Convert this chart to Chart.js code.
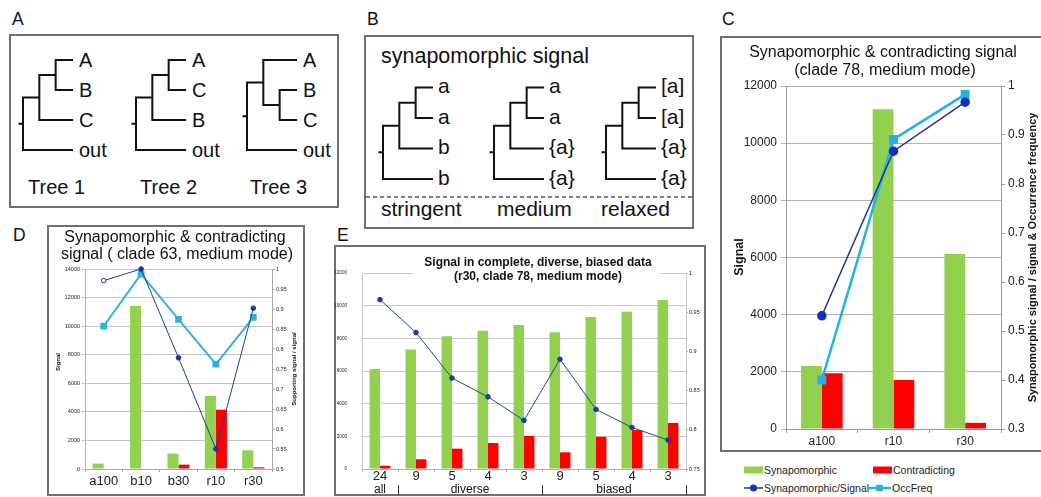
<!DOCTYPE html>
<html><head><meta charset="utf-8">
<script src="https://cdn.jsdelivr.net/npm/chart.js@4.4.0/dist/chart.umd.min.js"></script>
<style>
html,body{margin:0;padding:0;background:#fff;}
body{width:1041px;height:497px;overflow:hidden;position:relative;}
#svg{position:absolute;left:0;top:0;}
canvas{position:absolute;}
</style></head><body>
<svg id="svg" width="1041" height="497"></svg>
<canvas id="cC" width="320" height="415" style="left:721px;top:37px"></canvas>
<canvas id="cD" width="257" height="270" style="left:48px;top:226px"></canvas>
<canvas id="cE" width="370" height="250" style="left:335px;top:246px"></canvas>
<script>
// ---------------- DATA ----------------
// Panel C
const cCategories = ['a100', 'r10', 'r30'];
const cSynapomorphic = [2200, 11190, 6120];
const cContradicting = [1950, 1715, 215];
const cSynSignalRatio = [0.531, 0.867, 0.967];
const cOccFreq = [0.400, 0.891, 0.983];
const cSignalTicks = [0, 2000, 4000, 6000, 8000, 10000, 12000];
const cRatioTicks = [0.3, 0.4, 0.5, 0.6, 0.7, 0.8, 0.9, 1];

// Panel D
const dCategories = ['a100', 'b10', 'b30', 'r10', 'r30'];
const dSynapomorphic = [380, 11410, 1075, 5110, 1310];
const dContradicting = [0, 0, 305, 4150, 120];
const dSupportRatio = [0.971, 1.0, 0.778, 0.55, 0.902];
const dOccFreq = [0.857, 0.987, 0.874, 0.762, 0.879];
const dSignalTicks = [0, 2000, 4000, 6000, 8000, 10000, 12000, 14000];
const dRatioTicks = [0.5, 0.55, 0.6, 0.65, 0.7, 0.75, 0.8, 0.85, 0.9, 0.95, 1];

// Panel E
const eCategories = ['24', '9', '5', '4', '3', '9', '5', '4', '3'];
const eGroups = ['all', 'diverse', 'biased'];
const eGroupSizes = [1, 4, 4];
const eSynapomorphic = [6120, 7320, 8130, 8460, 8820, 8370, 9300, 9630, 10350];
const eContradicting = [200, 595, 1245, 1590, 2020, 1020, 1975, 2385, 2815];
const eSynSignalRatio = [0.966, 0.924, 0.866, 0.842, 0.812, 0.890, 0.826, 0.803, 0.787];
const eSignalTicks = [0, 2000, 4000, 6000, 8000, 10000, 12000];
const eRatioTicks = [0.75, 0.8, 0.85, 0.9, 0.95, 1];

// Panel A / B tree topologies
const treesA = [
  {name: 'Tree 1', topo: [[['A', 'B'], 'C'], 'out']},
  {name: 'Tree 2', topo: [[['A', 'C'], 'B'], 'out']},
  {name: 'Tree 3', topo: [['A', ['B', 'C']], 'out']}
];
const treesB = [
  {name: 'stringent', topo: [[['a', 'a'], 'b'], 'b']},
  {name: 'medium', topo: [[['a', 'a'], '{a}'], '{a}']},
  {name: 'relaxed', topo: [[['[a]', '[a]'], '{a}'], '{a}']}
];

// ---------------- STYLE ----------------
const FONT = "'Liberation Sans', Arial, Helvetica, sans-serif";
Chart.defaults.font.family = FONT;
Chart.defaults.color = '#222';
const GREEN = '#92d050', RED = '#ff0000';
const DARKBLUE = '#1f2f9e', DARKBLUE_PT = '#1230c4', LIGHTBLUE = '#22b2e6';
const BOXCOL = '#707070';

// ---------------- SVG (boxes, trees, legend) ----------------
const svg = document.getElementById('svg');
const NS = 'http://www.w3.org/2000/svg';
function el(tag, attrs, text) {
  const e = document.createElementNS(NS, tag);
  for (const k in attrs) e.setAttribute(k, attrs[k]);
  if (text != null) e.textContent = text;
  svg.appendChild(e);
  return e;
}
function txt(x, y, s, size, extra) {
  return el('text', Object.assign({x: x, y: y, 'font-size': size, 'font-family': FONT, fill: '#111'}, extra || {}), s);
}
// boxes
el('rect', {x: 10, y: 35, width: 328, height: 172, fill: 'none', stroke: BOXCOL, 'stroke-width': 2});
el('rect', {x: 365, y: 36, width: 328, height: 192, fill: 'none', stroke: BOXCOL, 'stroke-width': 2});
el('path', {d: 'M1045 37 H721 V451 H1045', fill: 'none', stroke: BOXCOL, 'stroke-width': 2});
el('rect', {x: 48, y: 226, width: 256, height: 269, fill: 'none', stroke: BOXCOL, 'stroke-width': 2});
el('rect', {x: 335, y: 246, width: 370, height: 249, fill: 'none', stroke: BOXCOL, 'stroke-width': 2});
// panel letters
[['A', 12, 25], ['B', 367, 25], ['C', 722, 25], ['D', 13, 241], ['E', 337, 241]].forEach(p => txt(p[1], p[2], p[0], 17.5));

function drawTree(topo, x0, yTop, dy, step, fontSize, labelDx, labelDy) {
  let leaf = 0;
  const tipX = x0 + 3 * step;
  const segs = [];
  function lay(node, depth) {
    if (typeof node === 'string') {
      const y = yTop + dy * (leaf++);
      txt(tipX + labelDx, y + labelDy, node, fontSize);
      return {x: tipX, y: y};
    }
    const x = x0 + depth * step;
    const kids = node.map(n => lay(n, depth + 1));
    const ys = kids.map(k => k.y);
    segs.push(`M${x} ${Math.min(...ys)} V${Math.max(...ys)}`);
    kids.forEach(k => segs.push(`M${x} ${k.y} H${k.x}`));
    return {x: x, y: (Math.min(...ys) + Math.max(...ys)) / 2};
  }
  const root = lay(topo, 0);
  segs.push(`M${x0 - 3.5} ${root.y} H${x0}`);
  el('path', {d: segs.join(' '), fill: 'none', stroke: '#111', 'stroke-width': 2, 'stroke-linecap': 'square'});
}
// Panel A
const aOffsets = [23, 136, 247];
const aNameX = [28, 140, 250];
treesA.forEach((t, i) => {
  drawTree(t.topo, aOffsets[i], 60, 30, 16.33, 20, 7, 7);
  txt(aNameX[i], 194, t.name, 20);
});
// Panel B
txt(381, 63, 'synapomorphic signal', 21.5);
el('line', {x1: 366, y1: 197, x2: 692, y2: 197, stroke: '#555', 'stroke-width': 1.5, 'stroke-dasharray': '4 3'});
const bOffsets = [383, 494, 606];
const bNameX = [381, 497, 601];
treesB.forEach((t, i) => {
  drawTree(t.topo, bOffsets[i], 87.5, 30.5, 16.33, 21, 6, 5.5);
  txt(bNameX[i], 216, t.name, 21);
});

// ---------------- helpers ----------------
function fixedTicks(arr) { return function (scale) { scale.ticks = arr.map(v => ({value: v})); }; }
const plainNum = v => String(parseFloat(Number(v).toFixed(3)));
function textPlugin(items) {
  return {
    id: 'texts',
    afterDraw(chart) {
      const ctx = chart.ctx;
      items.forEach(t => {
        ctx.save();
        if (t.bg) { ctx.fillStyle = '#fff'; ctx.fillRect(t.bg[0], t.bg[1], t.bg[2], t.bg[3]); }
        ctx.font = t.font;
        ctx.fillStyle = t.color || '#111';
        ctx.textAlign = t.align || 'center';
        ctx.textBaseline = t.baseline || 'alphabetic';
        ctx.translate(t.x, t.y);
        if (t.rot) ctx.rotate(t.rot);
        ctx.fillText(t.text, 0, 0);
        ctx.restore();
      });
    }
  };
}

// ---------------- Panel C ----------------
const cDatasets = [
  {type: 'line', label: 'Synapomorphic/Signal', data: cSynSignalRatio, yAxisID: 'y1', borderColor: DARKBLUE, borderWidth: 1.5,
   pointRadius: 4, pointBackgroundColor: DARKBLUE_PT, pointBorderColor: DARKBLUE_PT, tension: 0, order: 0, clip: false},
  {type: 'line', label: 'OccFreq', data: cOccFreq, yAxisID: 'y1', borderColor: LIGHTBLUE, borderWidth: 2.5,
   pointStyle: 'rect', pointRadius: 4.5, pointBackgroundColor: LIGHTBLUE, pointBorderColor: LIGHTBLUE, tension: 0, order: 0, clip: false},
  {type: 'bar', label: 'Synapomorphic', data: cSynapomorphic, yAxisID: 'y', backgroundColor: GREEN, categoryPercentage: 0.58, barPercentage: 1, order: 1},
  {type: 'bar', label: 'Contradicting', data: cContradicting, yAxisID: 'y', backgroundColor: RED, categoryPercentage: 0.58, barPercentage: 1, order: 1}
];
new Chart(document.getElementById('cC'), {
  type: 'bar',
  data: {labels: cCategories, datasets: cDatasets},
  options: {
    responsive: false, animation: false,
    layout: {padding: {top: 49, left: 0, right: 0, bottom: 0}},
    plugins: {legend: {display: false}, tooltip: {enabled: false}},
    scales: {
      x: {offset: true, grid: {offset: true, drawOnChartArea: false, tickLength: 4, color: '#9a9a9a'}, border: {color: '#9a9a9a'},
          ticks: {font: {size: 12}, padding: 1, maxRotation: 0}, afterFit(s) { s.height = 23; }},
      y: {position: 'left', min: 0, max: 12000, afterBuildTicks: fixedTicks(cSignalTicks),
          ticks: {font: {size: 12}, padding: 4, callback: v => String(v)},
          grid: {color: '#b4b4b4', tickLength: 5}, border: {color: '#9a9a9a'}, afterFit(s) { s.width = 65; }},
      y1: {position: 'right', min: 0.3, max: 1, afterBuildTicks: fixedTicks(cRatioTicks),
          ticks: {font: {size: 12}, padding: 3, callback: plainNum},
          grid: {drawOnChartArea: false, tickLength: 4, color: '#9a9a9a'}, border: {color: '#9a9a9a'}, afterFit(s) { s.width = 40; }}
    }
  },
  plugins: [textPlugin([
    {text: 'Synapomorphic & contradicting signal', x: 162, y: 20, font: '16px ' + FONT},
    {text: '(clade 78, medium mode)', x: 164, y: 38, font: '16px ' + FONT},
    {text: 'Signal', x: 19, y: 220, rot: -Math.PI / 2, baseline: 'middle', font: 'bold 12.5px ' + FONT},
    {text: 'Synapomorphic signal / signal & Occurrence frequency', x: 312, y: 220.5, rot: -Math.PI / 2, baseline: 'middle', font: 'bold 11px ' + FONT}
  ])]
});
// legend for C (outside its box), built from the datasets
(function () {
  const order = ['Synapomorphic', 'Contradicting', 'Synapomorphic/Signal', 'OccFreq'];
  const pos = [[744, 470], [873, 470], [744, 488], [868, 488]];
  order.forEach((name, i) => {
    const ds = cDatasets.find(d => d.label === name);
    const [x, y] = pos[i];
    let tx;
    if (ds.type === 'bar') {
      el('rect', {x: x, y: y - 3.5, width: 19, height: 7, fill: ds.backgroundColor});
      tx = x + 20;
    } else {
      const w = i === 3 ? 23 : 19;
      el('line', {x1: x, y1: y, x2: x + w, y2: y, stroke: ds.borderColor, 'stroke-width': ds.borderWidth});
      if (ds.pointStyle === 'rect') el('rect', {x: x + w / 2 - 3.3, y: y - 3.3, width: 6.6, height: 6.6, fill: ds.pointBackgroundColor});
      else el('circle', {cx: x + w / 2, cy: y, r: 3.5, fill: ds.pointBackgroundColor});
      tx = x + w + 1;
    }
    txt(tx, y + 3.8, name, 10.5, {fill: '#222'});
  });
})();

// ---------------- Panel D ----------------
new Chart(document.getElementById('cD'), {
  type: 'bar',
  data: {labels: dCategories, datasets: [
    {type: 'line', label: 'Supporting/Signal', data: dSupportRatio, yAxisID: 'y1', borderColor: '#243c8c', borderWidth: 1,
     pointRadius: 2.3, pointBorderWidth: 1, pointBackgroundColor: ['#ffffff', '#1f3596', '#1f3596', '#1f3596', '#1f3596'], pointBorderColor: '#1f3596',
     tension: 0, order: 0, clip: false},
    {type: 'line', label: 'OccFreq', data: dOccFreq, yAxisID: 'y1', borderColor: '#36b3d6', borderWidth: 2,
     pointStyle: 'rect', pointRadius: 3.4, pointBackgroundColor: '#2fb0e0', pointBorderColor: '#2fb0e0', tension: 0, order: 0, clip: false},
    {type: 'bar', label: 'Synapomorphic', data: dSynapomorphic, yAxisID: 'y', backgroundColor: GREEN, categoryPercentage: 0.59, barPercentage: 1, order: 1},
    {type: 'bar', label: 'Contradicting', data: dContradicting, yAxisID: 'y', backgroundColor: RED, categoryPercentage: 0.59, barPercentage: 1, order: 1}
  ]},
  options: {
    responsive: false, animation: false,
    layout: {padding: {top: 43, left: 0, right: 0, bottom: 0}},
    plugins: {legend: {display: false}, tooltip: {enabled: false}},
    scales: {
      x: {offset: true, grid: {offset: true, drawOnChartArea: false, tickLength: 3, color: '#a8a8a8'}, border: {color: '#a8a8a8'},
          ticks: {font: {size: 13}, padding: 2, maxRotation: 0}, afterFit(s) { s.height = 27; }},
      y: {position: 'left', min: 0, max: 14000, afterBuildTicks: fixedTicks(dSignalTicks),
          ticks: {font: {size: 5.5}, padding: 2, callback: v => String(v)},
          grid: {color: '#c4c4c4', tickLength: 3}, border: {color: '#b0b0b0'}, afterFit(s) { s.width = 37; }},
      y1: {position: 'right', min: 0.5, max: 1, afterBuildTicks: fixedTicks(dRatioTicks),
          ticks: {font: {size: 5.5}, padding: 1, callback: plainNum},
          grid: {drawOnChartArea: false, tickLength: 3, color: '#a8a8a8'}, border: {color: '#a8a8a8'}, afterFit(s) { s.width = 33; }}
    }
  },
  plugins: [textPlugin([
    {text: 'Synapomorphic & contradicting', x: 127, y: 15.5, font: '16px ' + FONT},
    {text: 'signal ( clade 63, medium mode)', x: 129, y: 32.5, font: '16px ' + FONT},
    {text: 'Signal', x: 10, y: 136, rot: -Math.PI / 2, baseline: 'middle', font: 'bold 6px ' + FONT},
    {text: 'Supporting signal / signal', x: 246, y: 143, rot: -Math.PI / 2, baseline: 'middle', font: 'bold 6px ' + FONT}
  ])]
});

// ---------------- Panel E ----------------
const groupPlugin = {
  id: 'groups',
  afterDraw(chart) {
    const ctx = chart.ctx, xs = chart.scales.x;
    const w = xs.getPixelForValue(1) - xs.getPixelForValue(0);
    let start = 0;
    ctx.save();
    ctx.font = '12px ' + FONT; ctx.fillStyle = '#111'; ctx.textAlign = 'center'; ctx.textBaseline = 'alphabetic';
    ctx.strokeStyle = '#333'; ctx.lineWidth = 1;
    eGroups.forEach((g, i) => {
      const n = eGroupSizes[i];
      const left = xs.getPixelForValue(start) - w / 2;
      const right = xs.getPixelForValue(start + n - 1) + w / 2;
      ctx.fillText(g, (left + right) / 2, 246.5);
      const rx = Math.round(right) + 0.5;
      ctx.beginPath(); ctx.moveTo(rx, 239); ctx.lineTo(rx, 249); ctx.stroke();
      start += n;
    });
    ctx.restore();
  }
};
new Chart(document.getElementById('cE'), {
  type: 'bar',
  data: {labels: eCategories, datasets: [
    {type: 'line', label: 'Synapomorphic/Signal', data: eSynSignalRatio, yAxisID: 'y1', borderColor: '#28488e', borderWidth: 1,
     pointRadius: 2.3, pointBackgroundColor: '#1d3c9c', pointBorderColor: '#1d3c9c', tension: 0, order: 0, clip: false},
    {type: 'bar', label: 'Synapomorphic', data: eSynapomorphic, yAxisID: 'y', backgroundColor: GREEN, categoryPercentage: 0.58, barPercentage: 1, order: 1},
    {type: 'bar', label: 'Contradicting', data: eContradicting, yAxisID: 'y', backgroundColor: RED, categoryPercentage: 0.58, barPercentage: 1, order: 1}
  ]},
  options: {
    responsive: false, animation: false,
    layout: {padding: {top: 27, left: 0, right: 0, bottom: 0}},
    plugins: {legend: {display: false}, tooltip: {enabled: false}},
    scales: {
      x: {offset: true, grid: {offset: true, drawOnChartArea: false, tickLength: 3, color: '#b0b0b0'}, border: {color: '#b0b0b0'},
          ticks: {font: {size: 13}, padding: -3, maxRotation: 0, autoSkip: false}, afterFit(s) { s.height = 27; }},
      y: {position: 'left', min: 0, max: 12000, afterBuildTicks: fixedTicks(eSignalTicks),
          ticks: {font: {size: 4.6}, padding: 15, callback: v => String(v)},
          grid: {color: '#c8c8c8', drawTicks: false}, border: {color: '#c8c8c8'}, afterFit(s) { s.width = 27; }},
      y1: {position: 'right', min: 0.75, max: 1, afterBuildTicks: fixedTicks(eRatioTicks),
          ticks: {font: {size: 5.5}, padding: 1, callback: plainNum},
          grid: {drawOnChartArea: false, tickLength: 2, color: '#b0b0b0'}, border: {color: '#c8c8c8'}, afterFit(s) { s.width = 19; }}
    }
  },
  plugins: [groupPlugin, textPlugin([
    {text: 'Signal in complete, diverse, biased data', x: 203, y: 20, font: 'bold 12px ' + FONT, bg: [78, 6, 247, 31]},
    {text: '(r30, clade 78, medium mode)', x: 203, y: 33.5, font: 'bold 12px ' + FONT}
  ])]
});
</script>
</body></html>
